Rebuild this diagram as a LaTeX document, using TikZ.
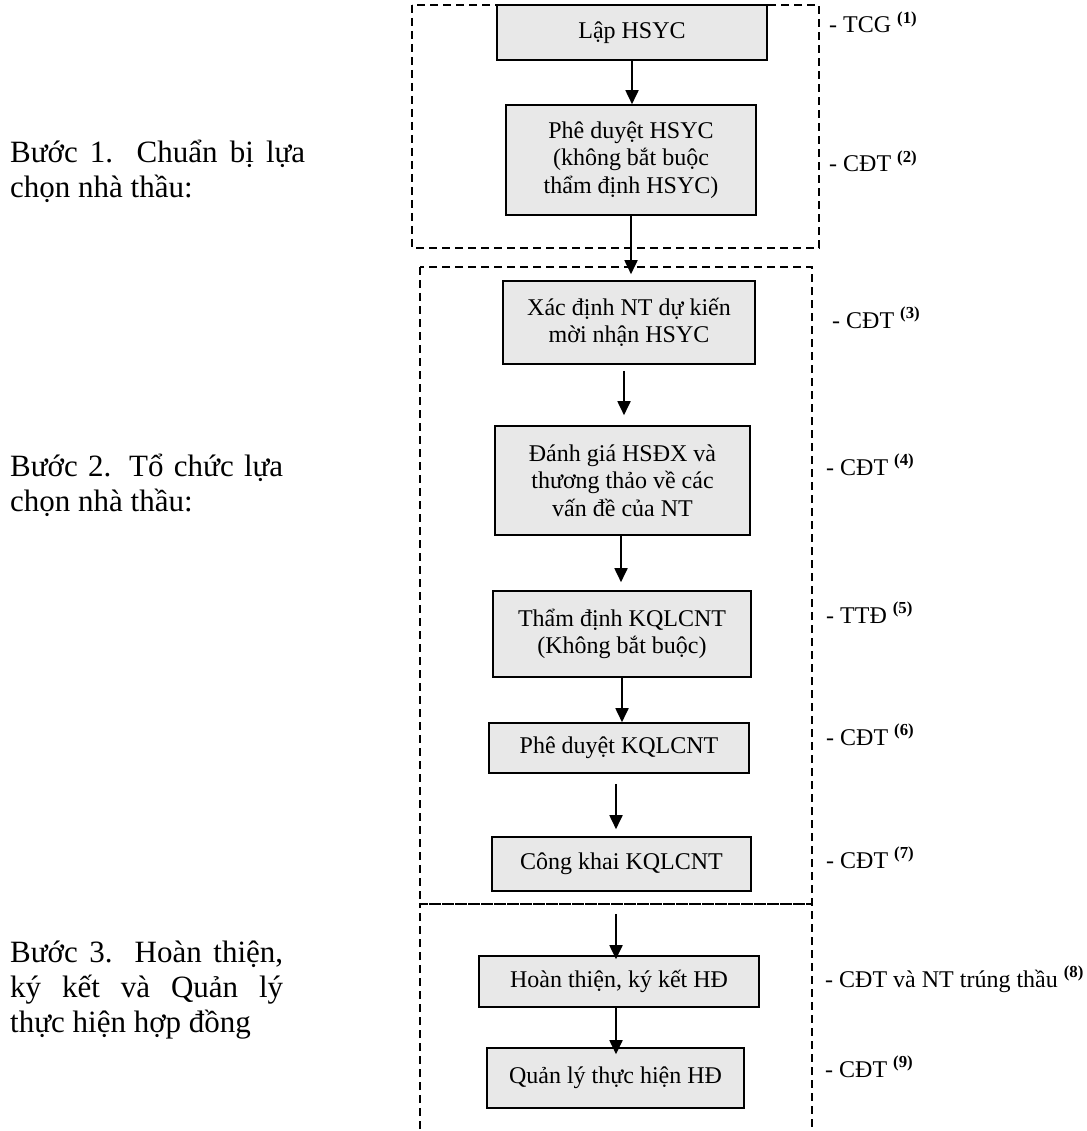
\documentclass[tikz,border=0pt]{standalone}
\usepackage{fontspec}
\setmainfont{Liberation Serif}
\usetikzlibrary{arrows.meta,positioning}

\begin{document}
\begin{tikzpicture}[
  x=1pt,
  y=-1pt,
  >={Triangle[length=14pt,width=13pt]},
  every node/.style={font=\fontsize{24}{27.5}\selectfont,inner sep=0pt},
  stepbox/.style={draw=black,line width=1.6pt,fill=black!9,align=center},
  phase/.style={draw=black,line width=1.5pt,dash pattern=on 8pt off 5pt},
  flow/.style={->,line width=1.8pt},
  actor/.style={anchor=base west},
  steptext/.style={anchor=base west,align=left,font=\fontsize{31}{35}\selectfont}
]
\useasboundingbox (0,0) rectangle (1086,1131);

% Dashed frames of the three phases.
\draw[phase] (412,5) rectangle (819,248);
\draw[phase] (420,267) rectangle (812,904);
\draw[phase] (420,1129) -- (420,904) -- (812,904) -- (812,1129);

% Phase captions on the left (anchored at the last line).
\node[steptext] (buoc1) at (10,198)
  {\makebox[295pt][s]{Bước 1. Chuẩn bị lựa}\\chọn nhà thầu:};
\node[steptext] (buoc2) at (10,511)
  {\makebox[273pt][s]{Bước 2. Tổ chức lựa}\\chọn nhà thầu:};
\node[steptext] (buoc3) at (10,1032)
  {\makebox[273pt][s]{Bước 3. Hoàn thiện,}\\
   \makebox[273pt][s]{ký kết và Quản lý}\\thực hiện hợp đồng};

% Steps of the procedure.
\node[stepbox,minimum width=270pt,minimum height=55pt] (lap) at (632,32.5) {Lập HSYC};
\node[stepbox,minimum width=250pt,minimum height=110pt] (duyethsyc) at (631,160)
  {Phê duyệt HSYC\\(không bắt buộc\\thẩm định HSYC)};
\node[stepbox,minimum width=252pt,minimum height=83pt] (xacdinh) at (629,322.5)
  {Xác định NT dự kiến\\mời nhận HSYC};
\node[stepbox,minimum width=255pt,minimum height=109pt] (danhgia) at (622.5,480.5)
  {Đánh giá HSĐX và\\thương thảo về các\\vấn đề của NT};
\node[stepbox,minimum width=258pt,minimum height=86pt] (thamdinh) at (622,634)
  {Thẩm định KQLCNT\\(Không bắt buộc)};
\node[stepbox,minimum width=260pt,minimum height=50pt] (duyetkq) at (619,748) {Phê duyệt KQLCNT};
\node[stepbox,minimum width=259pt,minimum height=54pt] (congkhai) at (621.5,864) {Công khai KQLCNT};
\node[stepbox,minimum width=280pt,minimum height=51pt] (hoanthien) at (619,981.5) {Hoàn thiện, ký kết HĐ};
\node[stepbox,minimum width=257pt,minimum height=60pt] (quanly) at (615.5,1078) {Quản lý thực hiện HĐ};

% Arrows between the steps.
\draw[flow] (lap.south) -- (lap.south |- duyethsyc.north);
\draw[flow,shorten >=6pt] (duyethsyc.south) -- (duyethsyc.south |- xacdinh.north);
\draw[flow,shorten <=6pt,shorten >=10pt] ([xshift=-5pt]xacdinh.south) -- ([xshift=-5pt]xacdinh.south |- danhgia.north);
\draw[flow,shorten >=8pt] ([xshift=-1.5pt]danhgia.south) -- ([xshift=-1.5pt]danhgia.south |- thamdinh.north);
\draw[flow] (thamdinh.south) -- (thamdinh.south |- duyetkq.north);
\draw[flow,shorten <=10pt,shorten >=7pt] ([xshift=-3pt]duyetkq.south) -- ([xshift=-3pt]duyetkq.south |- congkhai.north);
\draw[flow,shorten <=22pt,shorten >=-4pt] ([xshift=-5.5pt]congkhai.south) -- ([xshift=-5.5pt]congkhai.south |- hoanthien.north);
\draw[flow,shorten >=-7pt] ([xshift=-3pt]hoanthien.south) -- ([xshift=-3pt]hoanthien.south |- quanly.north);

% Who carries out each step.
\node[actor] (tcg) at (829,33) {- TCG \textsuperscript{\bfseries(1)}};
\node[actor] (cdt2) at (829,172) {- CĐT \textsuperscript{\bfseries(2)}};
\node[actor] (cdt3) at (832,328) {- CĐT \textsuperscript{\bfseries(3)}};
\node[actor] (cdt4) at (826,475) {- CĐT \textsuperscript{\bfseries(4)}};
\node[actor] (ttd) at (826,623) {- TTĐ \textsuperscript{\bfseries(5)}};
\node[actor] (cdt6) at (826,745) {- CĐT \textsuperscript{\bfseries(6)}};
\node[actor] (cdt7) at (826,868) {- CĐT \textsuperscript{\bfseries(7)}};
\node[actor] (cdtnt) at (825,987) {- CĐT và NT trúng thầu \textsuperscript{\bfseries(8)}};
\node[actor] (cdt9) at (825,1077) {- CĐT \textsuperscript{\bfseries(9)}};

\end{tikzpicture}
\end{document}
